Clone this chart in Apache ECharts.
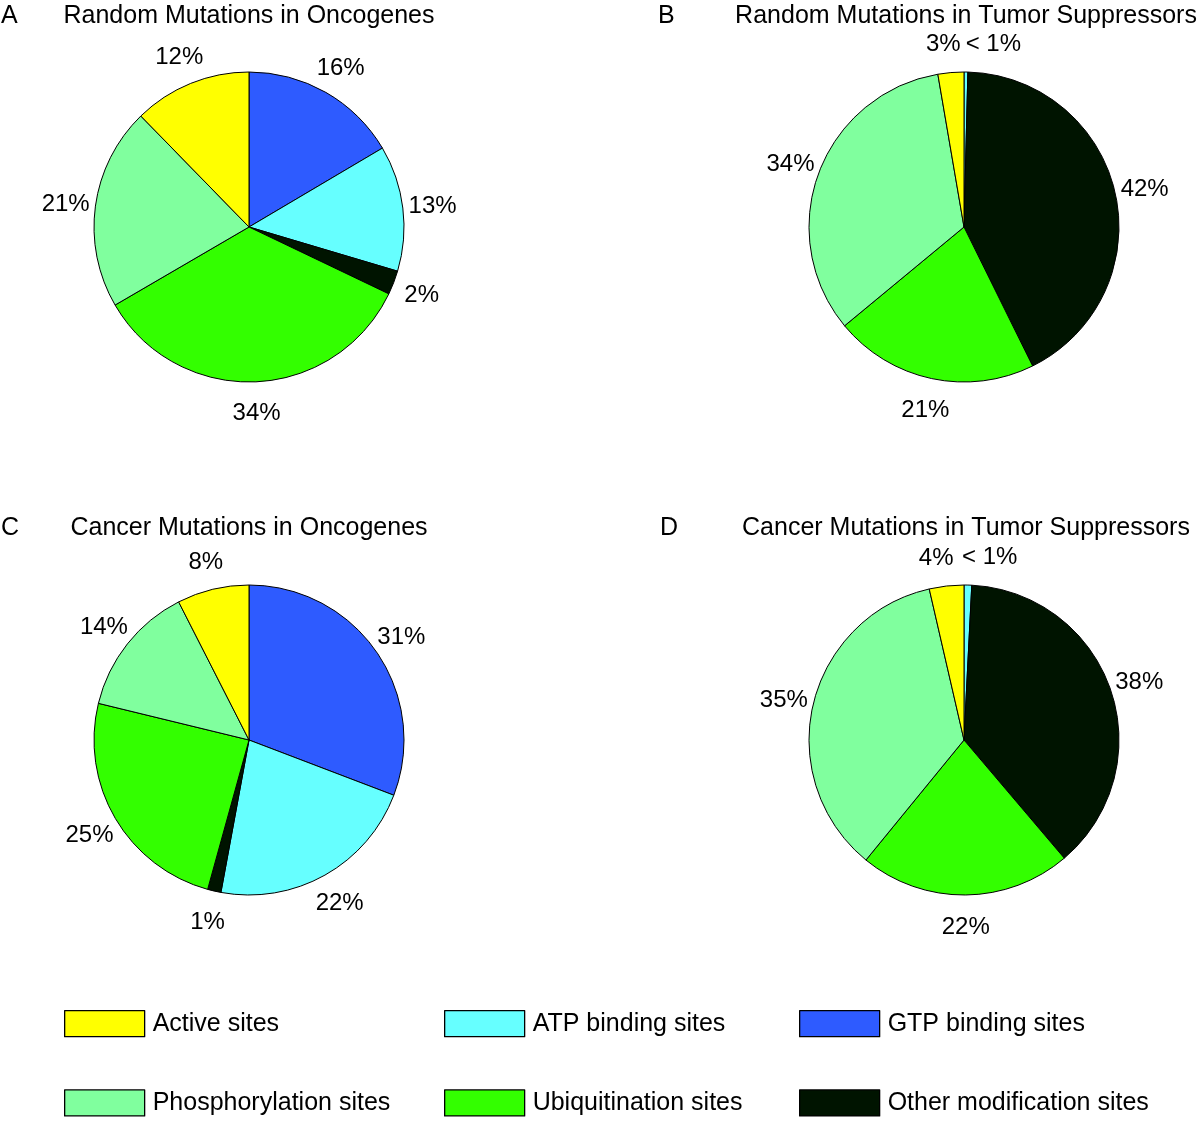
<!DOCTYPE html>
<html>
<head>
<meta charset="utf-8">
<script src="https://cdn.jsdelivr.net/npm/echarts@6/dist/echarts.min.js"></script>
<style>html,body{margin:0;padding:0;background:#fff}#c{width:1200px;height:1122px}</style>
</head>
<body>
<div id="c"></div>
<script>
// Slice order (clockwise from 12 o'clock)
const categories = ['GTP binding sites','ATP binding sites','Other modification sites','Ubiquitination sites','Phosphorylation sites','Active sites'];
const colors = ['#2E5BFF','#66FFFF','#001400','#33FF00','#80FF9E','#FFFF00'];

const titles = ['Random Mutations in Oncogenes','Random Mutations in Tumor Suppressors','Cancer Mutations in Oncogenes','Cancer Mutations in Tumor Suppressors'];
const panelLetters = ['A','B','C','D'];

// estimated slice shares (null = category absent)
const valuesA = [16.5, 13.1, 2.5, 34.5, 21.1, 12.3];
const valuesB = [null, 0.4, 42.3, 21.3, 33.3, 2.7];
const valuesC = [30.8, 22.1, 1.4, 24.5, 13.7, 7.5];
const valuesD = [null, 0.8, 38.0, 22.1, 35.5, 3.6];

const labelsA = ['16%','13%','2%','34%','21%','12%'];
const labelsB = [null,'< 1%','42%','21%','34%','3%'];
const labelsC = ['31%','22%','1%','25%','14%','8%'];
const labelsD = [null,'< 1%','38%','22%','35%','4%'];

// legend layout: columns
const legendCols = [['Active sites','Phosphorylation sites'],['ATP binding sites','Ubiquitination sites'],['GTP binding sites','Other modification sites']];

const panels = [
  {values: valuesA, labels: labelsA, center: [249, 227], shift: {}},
  {values: valuesB, labels: labelsB, center: [964, 227], shift: {'Active sites': -5, 'ATP binding sites': 27}},
  {values: valuesC, labels: labelsC, center: [249, 740], shift: {}},
  {values: valuesD, labels: labelsD, center: [964, 740], shift: {'Active sites': -7, 'ATP binding sites': 21}}
];
const FONT = '"Liberation Sans", Arial, Helvetica, sans-serif';

const series = [];
panels.forEach((p, pi) => {
  const data = [];
  categories.forEach((name, i) => {
    if (p.values[i] == null) return;
    data.push({name: name, value: p.values[i], itemStyle: {color: colors[i]}});
  });
  series.push({
    type: 'pie', center: p.center, radius: [0, 155], startAngle: 90, clockwise: true,
    silent: true, animation: false, avoidLabelOverlap: false,
    label: {show: false}, labelLine: {show: false},
    itemStyle: {borderColor: '#000', borderWidth: 1},
    emphasis: {disabled: true},
    data: data.map(d => ({name: d.name, value: d.value, itemStyle: d.itemStyle}))
  });
  series.push({
    type: 'pie', center: p.center, radius: [168, 196], startAngle: 90, clockwise: true,
    silent: true, animation: false, avoidLabelOverlap: false,
    legendHoverLink: false,
    itemStyle: {color: 'rgba(0,0,0,0)', borderWidth: 0},
    emphasis: {disabled: true},
    labelLine: {show: false},
    label: {show: true, position: 'inside', rotate: 0, color: '#000', fontSize: 24, fontFamily: FONT,
      formatter: (params) => p.labels[categories.indexOf(params.name)]},
    labelLayout: (params) => {
      const name = data[params.dataIndex].name;
      const dx = p.shift[name] || 0;
      return {dx: dx, dy: 2};
    },
    data: data.map(d => ({name: d.name, value: d.value}))
  });
});

const titleOpts = [];
const titleX = [249, 966, 249, 966];
const titleY = [4, 4, 516, 516];
titles.forEach((t, i) => {
  titleOpts.push({text: t, left: titleX[i], top: titleY[i], textAlign: 'center', padding: 0,
    textStyle: {fontSize: 25, fontWeight: 'normal', color: '#000', fontFamily: FONT}});
});
const letterX = [1, 658, 1, 660];
panelLetters.forEach((t, i) => {
  titleOpts.push({text: t, left: letterX[i], top: titleY[i], padding: 0,
    textStyle: {fontSize: 25, fontWeight: 'normal', color: '#000', fontFamily: FONT}});
});

const legendX = [64, 444, 799];
const legends = legendCols.map((col, i) => ({
  data: col, orient: 'vertical', left: legendX[i], top: 1010, padding: 0,
  itemWidth: 80, itemHeight: 26, itemGap: 52, icon: 'rect', selectedMode: false,
  itemStyle: {borderColor: '#000', borderWidth: 1.3},
  textStyle: {fontSize: 25, color: '#000', fontFamily: FONT, padding: [2, 0, 0, 3]}
}));

const chart = echarts.init(document.getElementById('c'), null, {renderer: 'canvas'});
chart.setOption({
  backgroundColor: '#fff',
  animation: false,
  color: colors,
  title: titleOpts,
  legend: legends,
  series: series
});
</script>
</body>
</html>
